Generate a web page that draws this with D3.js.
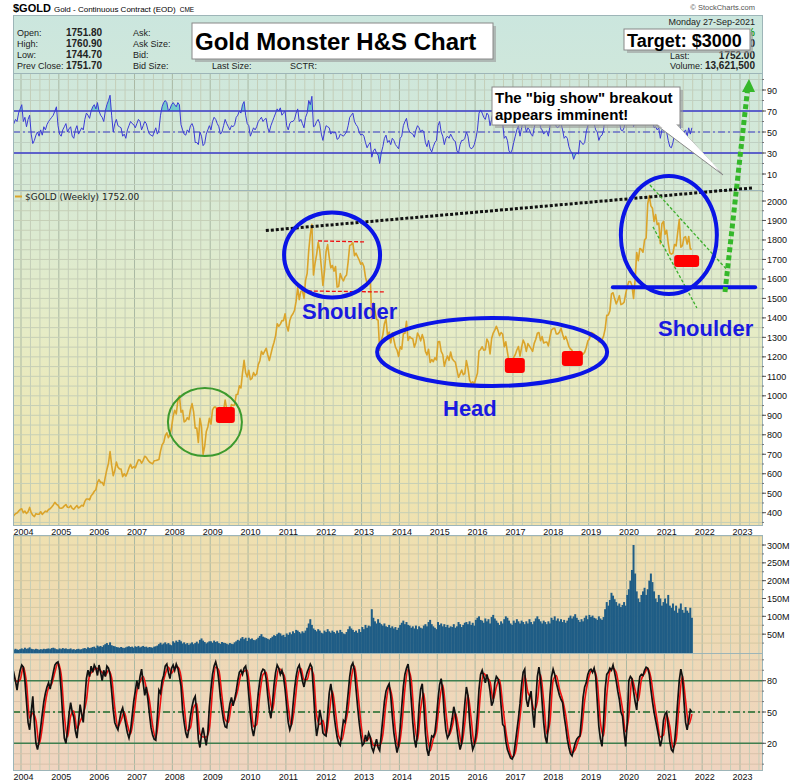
<!DOCTYPE html>
<html>
<head>
<meta charset="utf-8">
<script src="https://cdn.jsdelivr.net/npm/d3@7"></script>
<style>
  body { margin: 0; background: #fff; }
  svg { display: block; font-family: Arial, "Liberation Sans", sans-serif; }
</style>
</head>
<body>
<svg id="chart" width="800" height="783"></svg>
<script>
// weekly chart sampled twice a month, first sample = early Oct 2003
const startYear = 2003.77;
const perYear = 24;

const gold = [
  372,386,395,398,408,416,
  420,400,408,396,405,427,400,387,380,395,392,392,405,391,400,408,405,416,420,429,440,453,443,438,
  424,423,426,435,442,428,427,436,422,417,428,436,424,430,438,434,458,470,470,466,487,496,510,518,
  556,570,555,556,540,584,622,654,714,644,590,616,660,634,625,624,585,600,588,606,630,648,628,636,
  630,652,672,670,654,669,690,684,670,660,655,651,667,668,670,673,716,748,760,795,810,785,800,838,
  895,926,907,975,1000,916,925,866,872,888,878,930,960,918,834,834,760,885,840,700,740,815,840,884,
  855,928,942,942,925,917,871,891,925,978,932,927,922,955,950,953,1006,1008,1051,1040,1118,1182,1118,1097,
  1131,1083,1090,1119,1104,1113,1160,1180,1228,1213,1228,1244,1211,1181,1214,1248,1275,1309,1370,1357,1368,1386,1386,1421,
  1360,1333,1387,1410,1421,1439,1486,1556,1494,1536,1540,1500,1594,1628,1745,1829,1880,1620,1680,1725,1788,1746,1660,1566,
  1640,1740,1776,1711,1657,1669,1640,1664,1558,1561,1628,1604,1590,1610,1620,1688,1772,1776,1785,1719,1732,1714,1697,1676,
  1683,1664,1609,1578,1593,1596,1395,1476,1437,1393,1388,1234,1282,1313,1370,1396,1308,1327,1272,1323,1288,1250,1235,1202,
  1252,1240,1318,1321,1382,1284,1304,1296,1293,1250,1274,1322,1307,1282,1314,1287,1228,1210,1239,1171,1186,1175,1195,1184,
  1277,1279,1228,1212,1152,1183,1204,1182,1225,1190,1180,1172,1133,1095,1113,1132,1108,1115,1181,1142,1082,1064,1072,1061,
  1090,1116,1230,1238,1252,1234,1236,1291,1275,1215,1294,1322,1337,1357,1336,1309,1325,1316,1252,1277,1226,1173,1159,1152,
  1197,1211,1235,1253,1204,1249,1286,1268,1228,1268,1255,1242,1228,1269,1290,1321,1325,1283,1304,1271,1275,1276,1256,1303,
  1339,1345,1347,1318,1318,1327,1347,1316,1290,1305,1281,1253,1241,1233,1178,1206,1198,1192,1228,1215,1213,1223,1248,1281,
  1292,1325,1322,1316,1302,1298,1276,1285,1288,1306,1344,1413,1415,1437,1523,1529,1499,1472,1490,1514,1468,1472,1480,1523,
  1560,1587,1586,1566,1500,1596,1736,1694,1756,1751,1737,1800,1810,1986,2028,1975,1963,1895,1930,1879,1887,1781,1883,1895,
  1829,1850,1783,1734,1727,1732,1777,1769,1838,1905,1763,1771,1812,1817,1779,1818,1754,1752
];

const rsi = [
  55,58,62,60,68,72,
  76,60,64,55,62,66,48,39,42,47,50,46,52,47,55,52,57,60,62,64,66,70,74,56,
  48,46,52,55,58,50,53,55,46,44,52,56,48,51,54,52,62,68,66,63,70,74,76,72,
  78,70,66,64,60,70,76,80,85,66,50,58,62,56,55,54,46,48,44,52,56,60,58,57,
  54,58,62,60,52,56,60,58,52,48,47,46,50,54,48,52,66,74,78,80,78,70,72,76,
  78,76,74,78,76,57,52,48,47,52,50,56,58,54,40,40,38,50,46,37,39,48,52,56,
  52,60,64,62,58,55,48,50,56,62,58,55,52,56,55,57,64,66,70,68,76,79,66,58,
  56,46,50,54,52,55,60,62,64,60,62,63,54,50,56,60,64,68,72,70,73,66,68,70,
  56,52,58,60,60,62,68,72,60,62,58,54,64,68,80,76,84,55,56,60,62,58,48,42,
  50,56,55,54,48,50,49,50,43,44,48,47,46,48,50,56,64,66,68,60,57,55,50,47,
  48,46,40,35,38,40,26,32,34,30,28,20,30,36,44,47,40,42,38,44,42,38,36,34,
  44,46,56,60,63,54,50,49,48,45,52,56,54,50,52,50,40,36,42,34,31,36,40,42,
  56,60,50,46,38,44,46,44,48,45,42,41,32,30,38,42,42,44,50,46,36,34,35,38,
  44,52,68,71,68,64,62,68,66,56,62,70,72,70,66,60,60,58,44,46,42,32,30,33,
  40,46,52,56,46,54,60,58,50,54,52,48,46,54,60,64,66,54,52,48,50,51,46,56,
  62,63,60,55,54,56,58,52,44,46,44,36,32,30,24,28,30,29,42,40,38,40,50,56,
  58,62,60,58,52,50,42,46,47,52,66,74,73,72,80,78,66,58,58,60,52,51,54,62,
  68,70,68,72,55,60,70,64,64,62,60,66,72,84,86,72,62,54,55,52,54,44,52,54,
  56,50,42,36,35,40,48,52,60,66,50,46,50,52,46,54,48,54
];

const stochK = [
  84,87,80,71,82,90,
  95,93,80,60,40,33,50,65,40,20,14,22,35,48,60,68,74,78,72,80,88,95,97,98,
  90,70,45,25,20,32,48,59,50,45,32,25,40,57,48,40,62,82,90,84,94,88,95,92,
  85,95,88,80,90,84,94,92,86,70,52,40,36,33,42,50,54,46,38,30,25,32,46,60,
  70,80,72,84,91,78,66,74,62,48,35,28,24,23,45,71,68,80,85,94,96,88,82,92,
  95,90,96,92,84,75,52,40,30,25,34,46,55,62,65,48,24,16,28,35,26,18,30,55,
  72,86,94,98,92,80,64,52,42,36,35,48,58,64,56,62,70,80,88,90,86,92,94,84,
  66,48,34,27,36,52,68,80,88,91,90,82,66,52,44,58,76,88,95,92,86,90,84,72,
  56,40,33,38,56,72,84,92,95,88,80,74,82,88,92,96,93,70,44,27,36,52,44,30,
  28,27,48,68,77,66,48,36,26,20,18,30,42,40,52,68,84,94,97,90,72,55,40,28,
  18,20,28,22,30,26,16,12,18,24,16,13,28,44,60,70,74,77,66,46,30,20,11,18,
  35,55,74,86,92,96,84,62,40,24,16,30,56,72,77,56,30,14,8,18,27,26,30,44,
  62,76,82,70,48,32,25,28,35,44,55,48,34,22,14,20,40,58,74,66,42,24,14,18,
  28,48,72,86,90,84,78,86,80,70,56,60,78,84,82,76,56,38,36,22,14,10,6,5,
  8,20,32,44,58,76,88,91,62,55,64,70,50,35,60,84,93,82,60,40,26,20,38,66,
  84,91,86,78,72,66,62,59,46,36,24,16,10,8,14,20,24,26,27,44,64,74,78,86,
  90,91,88,92,84,60,36,24,17,40,72,86,88,92,90,95,88,80,70,62,50,46,30,17,
  40,80,84,82,70,60,52,72,84,86,85,90,93,92,86,72,60,50,42,34,26,17,24,42,
  48,50,36,22,14,12,20,38,60,80,91,84,60,40,33,42,52,50
];

// %D signal line, one reading per month (second half of each month)
const stochD = [
  84,79,81,
  93,78,44,49,42,19,35,59,73,77,88,97,
  86,47,26,46,51,34,41,48,61,85,89,92,
  91,88,85,90,83,54,36,42,50,38,29,46,
  70,79,84,73,61,37,25,46,73,86,93,87,
  92,93,84,56,32,35,54,58,29,26,26,34,
  71,93,90,65,43,40,57,61,71,86,89,90,
  66,36,38,67,86,88,67,51,74,92,89,82,
  56,37,55,83,92,81,81,92,86,47,38,42,
  28,48,70,50,27,23,37,53,82,94,72,41,
  22,23,26,18,18,18,28,58,74,63,32,16,
  36,72,91,81,42,23,53,68,33,13,24,33,
  61,76,50,28,36,49,35,19,39,66,44,19,
  31,69,87,83,79,62,74,81,57,32,15,7,
  11,32,59,85,69,63,52,60,86,61,29,41,
  80,85,72,62,47,25,11,14,23,32,61,79,
  89,90,79,40,27,66,89,92,88,71,53,31,
  46,82,71,61,81,87,92,83,61,42,26,28,
  47,36,16,23,59,85,61,38,48
];

// weekly volume, millions
const volume = [
  8,6,9,7,6,8,
  10,8,12,9,10,13,9,8,7,9,8,6,8,7,9,8,9,10,8,11,12,10,8,7,
  10,8,11,9,10,8,8,10,7,8,6,8,9,7,8,10,11,9,13,11,12,14,15,11,
  18,15,17,14,19,22,25,20,27,19,17,16,14,13,12,14,12,11,13,15,16,14,15,12,
  16,14,17,13,15,17,14,15,12,14,13,12,15,16,18,22,26,21,24,27,22,25,21,19,
  30,26,32,28,34,30,24,27,22,25,20,24,27,22,25,29,24,34,38,32,28,24,27,30,
  30,26,32,28,30,25,23,28,26,25,23,21,25,23,22,27,30,34,32,38,42,36,40,31,
  40,36,38,34,33,36,40,45,50,43,41,39,37,35,39,43,47,45,50,54,52,46,48,42,
  52,48,55,50,58,53,62,60,56,52,58,54,60,68,80,92,76,66,62,58,64,60,54,52,
  60,56,64,58,54,60,56,52,60,54,62,56,52,50,56,64,72,66,62,56,60,54,64,56,
  70,64,76,68,74,72,120,96,86,80,92,82,78,74,80,72,70,76,68,72,66,70,62,68,
  76,82,88,78,84,76,74,68,72,66,74,64,72,68,66,74,78,72,84,90,78,72,68,64,
  84,76,80,72,78,70,76,68,72,70,78,68,72,84,78,70,76,82,84,78,86,76,82,74,
  90,96,100,90,88,82,94,86,92,80,98,104,94,88,82,76,86,80,92,100,96,88,80,76,
  88,82,92,86,80,88,84,78,86,80,92,84,78,86,94,100,92,86,80,88,84,78,86,80,
  96,90,100,88,94,86,92,84,90,82,88,96,102,94,100,106,96,90,84,92,86,96,102,92,
  104,98,102,96,94,90,100,94,90,98,120,140,130,146,166,158,148,140,130,136,126,132,140,130,
  160,176,200,230,300,220,170,150,140,160,170,180,160,176,200,220,196,170,150,140,160,150,130,140,
  150,136,160,130,124,136,116,130,110,122,136,118,110,126,116,110,124,96
];

const yearTicks = [2004,2005,2006,2007,2008,2009,2010,2011,2012,2013,2014,2015,2016,2017,2018,2019,2020,2021,2022,2023];
const goldTicks = [400,500,600,700,800,900,1000,1100,1200,1300,1400,1500,1600,1700,1800,1900,2000];
const rsiTicks = [10,30,50,70,90];
const volTicks = [50,100,150,200,250,300];
const stochTicks = [20,50,80];

const headerLeft = [["Open:","1751.80"],["High:","1760.90"],["Low:","1744.70"],["Prev Close:","1751.70"]];
const headerMid = ["Ask:","Ask Size:","Bid:","Bid Size:"];

// ---------------------------------------------------------------
const svg = d3.select("#chart");
const L = 13, R = 762;
const defs = svg.append("defs");

const grad = defs.append("linearGradient").attr("id", "bg")
  .attr("gradientUnits", "userSpaceOnUse")
  .attr("x1", 0).attr("y1", 15).attr("x2", 0).attr("y2", 770);
[[0, "#cbe6de"], [0.22, "#d6e9d6"], [0.42, "#e6ecc6"], [0.6, "#efe6b0"], [0.75, "#eedcb0"], [1, "#efd4c0"]]
  .forEach(([o, c]) => grad.append("stop").attr("offset", o).attr("stop-color", c));

const x = d3.scaleLinear().domain([2004, 2023]).range([21, 740]);
const yGold = d3.scaleLinear().domain([400, 2000]).range([512.7, 201]);
const yRsi = d3.scaleLinear().domain([10, 90]).range([174, 90]);
const yVol = d3.scaleLinear().domain([0, 300]).range([652, 545]);
const ySto = d3.scaleLinear().domain([20, 80]).range([743.3, 680.7]);

const dateOf = i => startYear + i / perYear;

const panels = {
  rsi: { y0: 73, y1: 190 },
  gold: { y0: 190, y1: 525 },
  vol: { y0: 535, y1: 653 },
  sto: { y0: 653, y1: 770 }
};

// background
svg.append("rect").attr("x", L).attr("y", 15).attr("width", R - L).attr("height", 755).attr("fill", "url(#bg)");
svg.append("rect").attr("x", L).attr("y", 525).attr("width", R - L).attr("height", 10).attr("fill", "#fff");

Object.entries(panels).forEach(([k, p]) => {
  defs.append("clipPath").attr("id", "clip-" + k)
    .append("rect").attr("x", L).attr("y", p.y0).attr("width", R - L).attr("height", p.y1 - p.y0);
});

// vertical grid (quarters, years darker)
const quarters = d3.range(2003.75, 2023.6, 0.25);
Object.entries(panels).forEach(([k, p]) => {
  const g = svg.append("g").attr("clip-path", `url(#clip-${k})`);
  g.selectAll("line").data(quarters).join("line")
    .attr("x1", d => x(d)).attr("x2", d => x(d))
    .attr("y1", p.y0).attr("y2", p.y1)
    .attr("stroke", d => Math.abs(d - Math.round(d)) < 0.01 ? "#a9b8a3" : "#c4ceb8")
    .attr("stroke-width", 1);
});

function hGrid(key, scale, vals, color) {
  svg.append("g").attr("clip-path", `url(#clip-${key})`)
    .selectAll("line").data(vals).join("line")
    .attr("x1", L).attr("x2", R)
    .attr("y1", d => scale(d)).attr("y2", d => scale(d))
    .attr("stroke", color).attr("stroke-width", 1);
}
hGrid("gold", yGold, d3.range(350, 2101, 50), "#c6cfb6");
hGrid("rsi", yRsi, d3.range(0, 101, 10), "#bfd0c2");
hGrid("vol", yVol, d3.range(25, 326, 25), "#d5c9a2");
hGrid("sto", ySto, d3.range(0, 101, 10), "#d8c2aa");

// ---------------- RSI panel
const rsiG = svg.append("g").attr("clip-path", "url(#clip-rsi)");
defs.append("clipPath").attr("id", "clip-ob").append("rect")
  .attr("x", L).attr("y", 73).attr("width", R - L).attr("height", yRsi(70) - 73);
defs.append("clipPath").attr("id", "clip-os").append("rect")
  .attr("x", L).attr("y", yRsi(30)).attr("width", R - L).attr("height", 190 - yRsi(30));
rsiG.append("path").datum(rsi)
  .attr("clip-path", "url(#clip-ob)")
  .attr("fill", "#5cc3c8").attr("fill-opacity", 0.8)
  .attr("d", d3.area().x((d, i) => x(dateOf(i))).y0(yRsi(70)).y1(d => yRsi(d)));
rsiG.append("path").datum(rsi)
  .attr("clip-path", "url(#clip-os)")
  .attr("fill", "#5cc3c8").attr("fill-opacity", 0.8)
  .attr("d", d3.area().x((d, i) => x(dateOf(i))).y0(yRsi(30)).y1(d => yRsi(d)));
[70, 30].forEach(v => rsiG.append("line").attr("x1", L).attr("x2", R)
  .attr("y1", yRsi(v)).attr("y2", yRsi(v)).attr("stroke", "#3a3ac8").attr("stroke-width", 1.3));
rsiG.append("line").attr("x1", L).attr("x2", R).attr("y1", yRsi(50)).attr("y2", yRsi(50))
  .attr("stroke", "#3a3ac8").attr("stroke-width", 1.1).attr("stroke-dasharray", "7,3,2,3");
rsiG.append("path").datum(rsi)
  .attr("fill", "none").attr("stroke", "#3b3bd6").attr("stroke-width", 1)
  .attr("d", d3.line().x((d, i) => x(dateOf(i))).y(d => yRsi(d)));

// ---------------- Gold panel
const goldG = svg.append("g").attr("clip-path", "url(#clip-gold)");
goldG.append("path").datum(gold)
  .attr("fill", "none").attr("stroke", "#dba42a").attr("stroke-width", 1.6)
  .attr("stroke-linejoin", "round")
  .attr("d", d3.line().x((d, i) => x(dateOf(i))).y(d => yGold(d)));

svg.append("line").attr("x1", 15).attr("x2", 22).attr("y1", 196.5).attr("y2", 196.5)
  .attr("stroke", "#dba42a").attr("stroke-width", 2);
svg.append("text").attr("x", 25).attr("y", 200).attr("font-family", "DejaVu Sans, Verdana, sans-serif")
  .attr("font-size", 9).attr("fill", "#222").text("$GOLD (Weekly) 1752.00");

// ---------------- Volume panel
const barW = (x(2005) - x(2004)) / perYear + 0.4;
svg.append("g").attr("clip-path", "url(#clip-vol)")
  .selectAll("rect").data(volume).join("rect")
  .attr("x", (d, i) => x(dateOf(i)) - barW / 2)
  .attr("width", barW)
  .attr("y", d => yVol(d))
  .attr("height", d => yVol(0) - yVol(d) + 1)
  .attr("fill", "#1f5d86");

// ---------------- Stochastics panel
const stoG = svg.append("g").attr("clip-path", "url(#clip-sto)");
[80, 20].forEach(v => stoG.append("line").attr("x1", L).attr("x2", R)
  .attr("y1", ySto(v)).attr("y2", ySto(v)).attr("stroke", "#3f7f4f").attr("stroke-width", 1.4));
stoG.append("line").attr("x1", L).attr("x2", R).attr("y1", ySto(50)).attr("y2", ySto(50))
  .attr("stroke", "#1d6b2d").attr("stroke-width", 1.3).attr("stroke-dasharray", "7,3,2,3");
stoG.append("path").datum(stochD)
  .attr("fill", "none").attr("stroke", "#f01010").attr("stroke-width", 1.6)
  .attr("d", d3.line().curve(d3.curveMonotoneX).x((d, i) => x(startYear + (2 * i + 1) / perYear)).y(d => ySto(d)));
stoG.append("path").datum(stochK)
  .attr("fill", "none").attr("stroke", "#111").attr("stroke-width", 1.7)
  .attr("d", d3.line().x((d, i) => x(dateOf(i))).y(d => ySto(d)));

// ---------------- borders
Object.values(panels).forEach(p => {
  svg.append("rect").attr("x", L + 0.5).attr("y", p.y0 + 0.5).attr("width", R - L).attr("height", p.y1 - p.y0)
    .attr("fill", "none").attr("stroke", "#9db5b8").attr("stroke-width", 1);
});
svg.append("rect").attr("x", L + 0.5).attr("y", 15.5).attr("width", R - L).attr("height", 58)
  .attr("fill", "none").attr("stroke", "#9db5b8");

// ---------------- axes
function rightAxis(scale, vals, fmt, minor) {
  const g = svg.append("g").attr("font-size", 9).attr("fill", "#111");
  g.selectAll("line.m").data(minor).join("line")
    .attr("x1", R).attr("x2", R + 2).attr("y1", d => scale(d)).attr("y2", d => scale(d))
    .attr("stroke", "#777");
  g.selectAll("line.t").data(vals).join("line")
    .attr("x1", R).attr("x2", R + 4).attr("y1", d => scale(d)).attr("y2", d => scale(d))
    .attr("stroke", "#555");
  g.selectAll("text").data(vals).join("text")
    .attr("x", R + 5).attr("y", d => scale(d) + 3.5).text(fmt);
}
rightAxis(yRsi, rsiTicks, d => d, d3.range(0, 101, 10));
rightAxis(yGold, goldTicks, d => d, d3.range(350, 2051, 50));
rightAxis(yVol, volTicks, d => d + "M", d3.range(25, 301, 25));
rightAxis(ySto, stochTicks, d => d, d3.range(0, 101, 10));

[534.5, 780].forEach(yy => {
  svg.append("g").attr("font-size", 9).attr("fill", "#111")
    .selectAll("text").data(yearTicks).join("text")
    .attr("x", d => x(d) + 2.5).attr("y", yy).attr("text-anchor", "middle").text(d => d);
});

// ---------------- header
const sym = svg.append("text").attr("x", 13).attr("y", 12).attr("font-size", 11).attr("font-weight", "bold").text("$GOLD");
const symEnd = 13 + sym.node().getComputedTextLength();
const desc = svg.append("text").attr("x", symEnd + 3).attr("y", 12).attr("font-size", 8).text("Gold - Continuous Contract (EOD)");
const descEnd = symEnd + 3 + desc.node().getComputedTextLength();
svg.append("text").attr("x", descEnd + 4).attr("y", 12).attr("font-size", 6.5).text("CME");
svg.append("text").attr("x", 755).attr("y", 10).attr("text-anchor", "end").attr("font-size", 7.5)
  .attr("fill", "#555").text("© StockCharts.com");

const rowY = [36, 47, 58, 69];
const hdr = svg.append("g").attr("font-size", 9).attr("fill", "#222");
headerLeft.forEach(([lab, val], i) => {
  hdr.append("text").attr("x", 17).attr("y", rowY[i]).text(lab);
  hdr.append("text").attr("x", 66).attr("y", rowY[i]).attr("font-weight", "bold").attr("font-size", 10).text(val);
});
headerMid.forEach((lab, i) => hdr.append("text").attr("x", 133).attr("y", rowY[i]).text(lab));
hdr.append("text").attr("x", 212).attr("y", rowY[3]).text("Last Size:");
hdr.append("text").attr("x", 290).attr("y", rowY[3]).text("SCTR:");
hdr.append("text").attr("x", 755).attr("y", 24.5).attr("text-anchor", "end").text("Monday  27-Sep-2021");
// these two rows sit mostly under the target box; only their last glyph shows
defs.append("clipPath").attr("id", "clip-peek").append("rect").attr("x", 751).attr("y", 26).attr("width", 10).attr("height", 26);
const peek = hdr.append("g").attr("clip-path", "url(#clip-peek)");
peek.append("text").attr("x", 755).attr("y", rowY[0]).attr("text-anchor", "end").attr("font-weight", "bold")
  .attr("font-size", 10).attr("fill", "#1a9a1a").text("%");
peek.append("text").attr("x", 755).attr("y", rowY[1]).attr("text-anchor", "end").attr("font-weight", "bold")
  .attr("font-size", 10).text("0");
hdr.append("text").attr("x", 670).attr("y", rowY[2] + 1).text("Last:");
hdr.append("text").attr("x", 755).attr("y", rowY[2] + 1).attr("text-anchor", "end").attr("font-weight", "bold")
  .attr("font-size", 10).text("1752.00");
hdr.append("text").attr("x", 670).attr("y", rowY[3]).text("Volume:");
hdr.append("text").attr("x", 755).attr("y", rowY[3]).attr("text-anchor", "end").attr("font-weight", "bold")
  .attr("font-size", 10).text("13,621,500");

// ---------------- annotations
function box(x0, y0, w, h) {
  svg.append("rect").attr("x", x0 + 3).attr("y", y0 + 3).attr("width", w).attr("height", h).attr("fill", "#9a9a9a").attr("opacity", 0.6);
  svg.append("rect").attr("x", x0).attr("y", y0).attr("width", w).attr("height", h)
    .attr("fill", "#fff").attr("stroke", "#888").attr("stroke-width", 1);
}
box(192, 23, 301, 36);
svg.append("text").attr("x", 195).attr("y", 49.5).attr("font-size", 24).attr("font-weight", "bold").text("Gold Monster H&S Chart");
box(624, 29, 126, 21);
svg.append("text").attr("x", 627).attr("y", 46.5).attr("font-size", 18).attr("font-weight", "bold").text("Target: $3000");

// callout
svg.append("polygon").attr("points", "655,124 676,124 723,175")
  .attr("fill", "#fff").attr("stroke", "#888");
box(492, 87, 188, 38);
svg.append("polygon").attr("points", "656,123 675,123 721,172").attr("fill", "#fff");
svg.append("text").attr("x", 495).attr("y", 102.5).attr("font-size", 15).attr("font-weight", "bold").text('The "big show" breakout');
svg.append("text").attr("x", 495).attr("y", 120).attr("font-size", 15).attr("font-weight", "bold").text("appears imminent!");

const ann = svg.append("g");
// black dotted resistance trend line
ann.append("line").attr("x1", x(2010.47)).attr("y1", yGold(1848)).attr("x2", x(2023.32)).attr("y2", yGold(2067))
  .attr("stroke", "#111").attr("stroke-width", 3).attr("stroke-dasharray", "3,2");
// red dashed range lines
ann.append("line").attr("x1", x(2011.85)).attr("y1", yGold(1795)).attr("x2", x(2013.09)).attr("y2", yGold(1790))
  .attr("stroke", "#f01010").attr("stroke-width", 1.3).attr("stroke-dasharray", "4,2");
ann.append("line").attr("x1", x(2011.58)).attr("y1", yGold(1538)).attr("x2", x(2013.62)).attr("y2", yGold(1533))
  .attr("stroke", "#f01010").attr("stroke-width", 1.3).attr("stroke-dasharray", "4,2");
// green channel lines
ann.append("line").attr("x1", x(2020.62)).attr("y1", yGold(2082)).attr("x2", x(2022.66)).attr("y2", yGold(1646))
  .attr("stroke", "#3caf2c").attr("stroke-width", 1.3).attr("stroke-dasharray", "3,2");
ann.append("line").attr("x1", x(2020.70)).attr("y1", yGold(1867)).attr("x2", x(2021.86)).attr("y2", yGold(1451))
  .attr("stroke", "#3caf2c").attr("stroke-width", 1.3).attr("stroke-dasharray", "3,2");
// ellipses
const ovals = [
  { t: 2012.22, p: 1723, rx: 48, ry: 42.5, c: "#0a14e6", w: 4 },
  { t: 2016.45, p: 1225, rx: 115, ry: 34, c: "#0a14e6", w: 4 },
  { t: 2021.12, p: 1825, rx: 48, ry: 59, c: "#0a14e6", w: 4 },
  { t: 2008.86, p: 865, rx: 37, ry: 34, c: "#3c9a2e", w: 2 }
];
ann.selectAll("ellipse").data(ovals).join("ellipse")
  .attr("cx", d => x(d.t)).attr("cy", d => yGold(d.p)).attr("rx", d => d.rx).attr("ry", d => d.ry)
  .attr("fill", "none").attr("stroke", d => d.c).attr("stroke-width", d => d.w);
// neckline
ann.append("line").attr("x1", x(2019.64)).attr("x2", x(2023.4)).attr("y1", yGold(1557)).attr("y2", yGold(1557))
  .attr("stroke", "#0a14e6").attr("stroke-width", 4).attr("stroke-linecap", "round");
// red boxes
const marks = [
  { t: 2009.4, p: 901, w: 19, h: 16 },
  { t: 2017.05, p: 1156, w: 20, h: 15 },
  { t: 2018.57, p: 1191, w: 21, h: 15 },
  { t: 2021.59, p: 1692, w: 25, h: 12 }
];
ann.selectAll("rect.mk").data(marks).join("rect").attr("class", "mk")
  .attr("x", d => x(d.t) - d.w / 2).attr("y", d => yGold(d.p) - d.h / 2)
  .attr("width", d => d.w).attr("height", d => d.h).attr("rx", 3).attr("fill", "#ff0000");
// green target arrow
ann.append("line").attr("x1", 725).attr("y1", 292).attr("x2", 747.5).attr("y2", 90)
  .attr("stroke", "#35b82a").attr("stroke-width", 5).attr("stroke-dasharray", "5,3");
ann.append("polygon").attr("points", "749,79 742,92 755,92").attr("fill", "#35b82a");
// labels
const labs = [
  { s: "Shoulder", x: 302, y: 319 },
  { s: "Head", x: 443, y: 416 },
  { s: "Shoulder", x: 658, y: 336 }
];
ann.selectAll("text").data(labs).join("text")
  .attr("x", d => d.x).attr("y", d => d.y).attr("font-size", 22).attr("font-weight", "bold")
  .attr("fill", "#1a1ae0").text(d => d.s);
</script>
</body>
</html>
